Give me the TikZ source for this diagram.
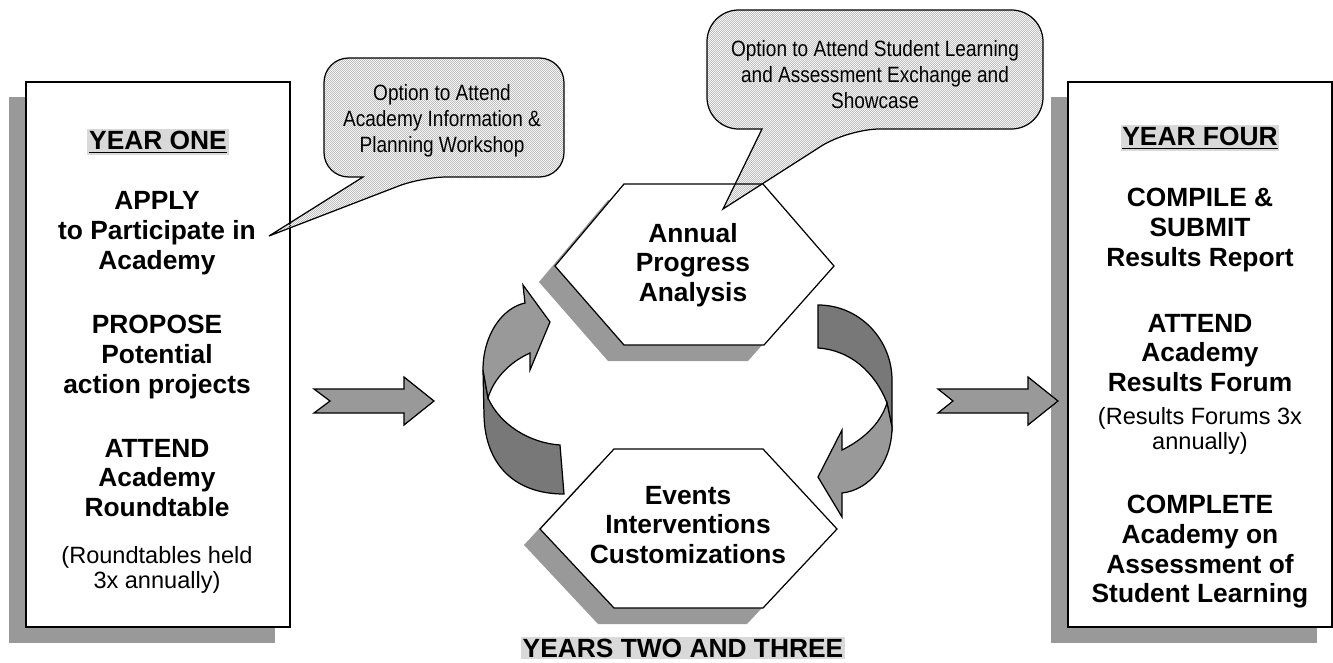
\documentclass[tikz,border=0pt]{standalone}
\usepackage{fontspec}
\setmainfont{Liberation Sans}
\newfontfamily\narrowsans[FakeStretch=0.86]{Liberation Sans}
\usetikzlibrary{patterns}
\pgfdeclarepatternformonly{finechecks}{\pgfpointorigin}{\pgfpoint{1.134pt}{1.134pt}}{\pgfpoint{1.134pt}{1.134pt}}{%
  \pgfpathrectangle{\pgfpointorigin}{\pgfpoint{0.567pt}{0.567pt}}%
  \pgfpathrectangle{\pgfpoint{0.567pt}{0.567pt}}{\pgfpoint{0.567pt}{0.567pt}}%
  \pgfusepath{fill}}
\begin{document}
\begin{tikzpicture}[x=0.02cm,y=-0.02cm,line width=0.7pt,
    shadowbox/.style={fill=black!40,draw=none},
    boldtext/.style={font=\fontsize{15}{16.9}\selectfont\bfseries,align=center,inner sep=1pt},
    plaintext/.style={font=\fontsize{13.4}{14.4}\selectfont,align=center,inner sep=1pt},
    bubbletext/.style={font=\narrowsans\fontsize{12.6}{14.8}\selectfont,align=center},
    bubble/.style={draw,pattern=finechecks,pattern color=black!26},
    blockarrow/.style={draw,fill=black!40,line join=miter},
    frontband/.style={draw,fill=black!40},
    backband/.style={draw,fill=black!53}]
  \useasboundingbox (0,0) rectangle (1333,663);
  % shadows
  \fill[shadowbox] (9,97) rectangle (275,643);
  \fill[shadowbox] (1051,97) rectangle (1317,643);
  \begin{scope}[shift={(-16,16)}]
    \fill[shadowbox] (555,266) -- (624,184) -- (763,184) -- (834,266) -- (764,345) -- (624,345) -- cycle;
    \fill[shadowbox] (540,529) -- (614,449) -- (763,449) -- (837,529) -- (763,608) -- (614,608) -- cycle;
  \end{scope}
  % year boxes
  \node (one) [draw,fill=white,minimum width=5.28cm,minimum height=10.9cm,inner sep=0pt] at (158,354.5) {};
  \node (four) [draw,fill=white,minimum width=5.28cm,minimum height=10.9cm,inner sep=0pt] at (1200,354.5) {};
  % hexagons
  \fill[white] (555,266) -- (624,184) -- (763,184) -- (834,266) -- (764,345) -- (624,345) -- cycle;
  \fill[white] (540,529) -- (614,449) -- (763,449) -- (837,529) -- (763,608) -- (614,608) -- cycle;
  % callouts
  \draw[bubble] (444,58) [rounded corners=14] -- (564,58) -- (564,177) -- (422,177) [sharp corners]
    -- (269,236) -- (363,177) -- (350,177) [rounded corners=14] -- (324,177) -- (324,58) -- cycle;
  \draw[bubble] (875,10) [rounded corners=18] -- (1043,10) -- (1043,129) -- (848,129) [sharp corners]
    -- (723,209) -- (762,129) -- (750,129) [rounded corners=18] -- (707,129) -- (707,10) -- cycle;
  \node (opt1) [bubbletext] at (442,121) {Option to Attend\\Academy Information \&\\Planning Workshop};
  \node (opt2) [bubbletext] at (875,75) {Option to Attend Student Learning\\and Assessment Exchange and\\Showcase};
  \draw (555,266) -- (624,184) -- (763,184) -- (834,266) -- (764,345) -- (624,345) -- cycle;
  \draw (540,529) -- (614,449) -- (763,449) -- (837,529) -- (763,608) -- (614,608) -- cycle;
  % year one
  \node (y1) [boldtext,fill=black!15] at (158,142) {\underline{YEAR ONE}};
  \node (apply) [boldtext] at (157,233) {APPLY\\to Participate in\\Academy};
  \node (propose) [boldtext] at (157,357) {PROPOSE\\Potential\\action projects};
  \node (attend1) [boldtext] at (157,478) {ATTEND\\Academy\\Roundtable};
  \node (held) [plaintext] at (157,570) {(Roundtables held\\3x annually)};
  % year four
  \node (y4) [boldtext,fill=black!15] at (1200,138) {\underline{YEAR FOUR}};
  \node (compile) [boldtext] at (1200,230) {COMPILE \&\\SUBMIT\\Results Report};
  \node (attend4) [boldtext] at (1200,353) {ATTEND\\Academy\\Results Forum};
  \node (forums) [plaintext] at (1200,431) {(Results Forums 3x\\annually)};
  \node (complete) [boldtext] at (1200,552) {COMPLETE\\Academy on\\Assessment of\\Student Learning};
  % years two and three
  \node (apa) [boldtext] at (693,265) {Annual\\Progress\\Analysis};
  \node (eic) [boldtext] at (688,525) {Events\\Interventions\\Customizations};
  \node (y23) [boldtext,fill=black!15] at (683,648) {YEARS TWO AND THREE};
  % straight arrows
  \draw[blockarrow] (314,389) -- (404,389) -- (404,377) -- (434,401) -- (404,425) -- (404,413) -- (314,413) -- (330,401) -- cycle;
  \draw[blockarrow] (938,389) -- (1028,389) -- (1028,377) -- (1058,401) -- (1028,425) -- (1028,413) -- (938,413) -- (953,401) -- cycle;
  % curved arrows
  \draw[backband] (483,370) -- (488,398) .. controls (500,425) and (530,443) .. (560,445) -- (564,494)
    .. controls (515,494) and (485,465) .. (484,415) -- cycle;
  \draw[frontband] (525,303) -- (523,285) -- (550,322) -- (530,370) -- (530,353)
    .. controls (510,362) and (494,378) .. (488,398) -- (483,370) .. controls (483,335) and (502,308) .. (525,303) -- cycle;
  \draw[backband] (818,305) .. controls (860,305) and (892,340) .. (892,380) -- (892,427) -- (887,403)
    .. controls (875,372) and (850,350) .. (818,348) -- cycle;
  \draw[frontband] (842,493) -- (842,517) -- (818,477) -- (842,430) -- (842,450)
    .. controls (862,440) and (880,425) .. (887,403) -- (892,427) .. controls (892,462) and (870,490) .. (842,493) -- cycle;
\end{tikzpicture}
\end{document}
